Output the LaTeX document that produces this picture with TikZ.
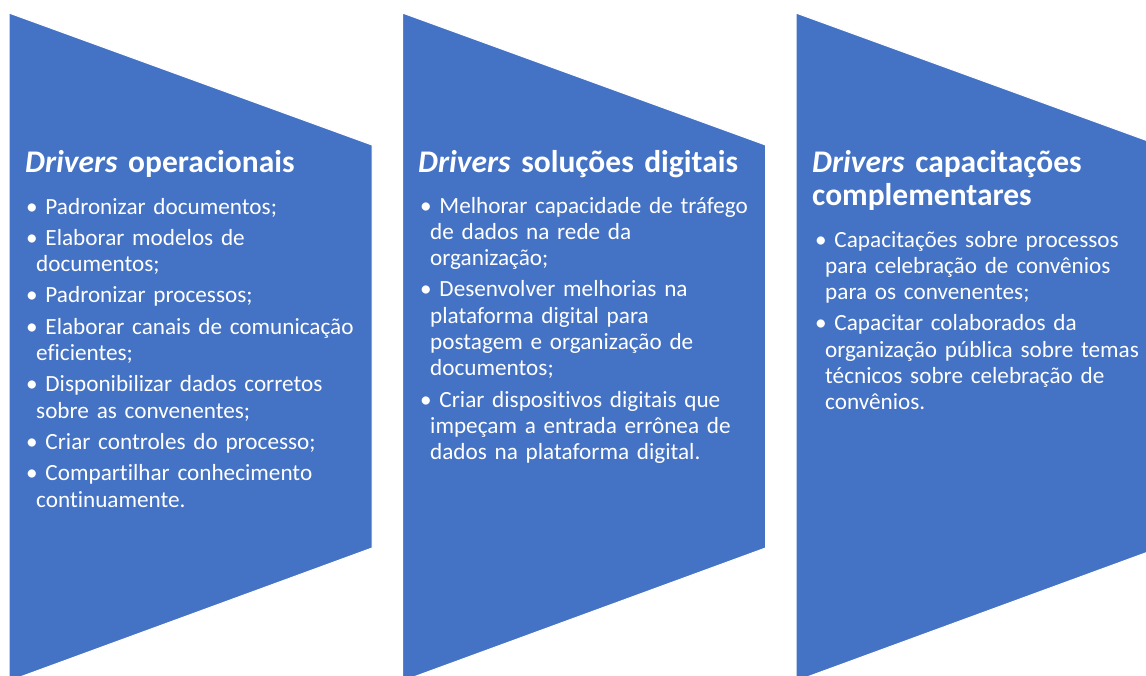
\documentclass[tikz,border=0pt]{standalone}
\usepackage{fontspec}
\setmainfont{Carlito}[Ligatures=NoCommon]
\usepackage{tikz}

\definecolor{drvblue}{HTML}{4472C4}
\newcommand{\drv}[1]{\hangindent=10pt\hangafter=1 •\ #1\par\vspace{5pt}}

\begin{document}
\begin{tikzpicture}[x=1pt,y=-1pt,
		panel/.style={fill=drvblue,draw=white,line width=1pt},
		drvtitle/.style={anchor=base west,inner sep=0pt,text width=345pt,align=left,text=white,font=\fontsize{31.5}{33}\selectfont\bfseries},
		drvlist/.style={anchor=base west,inner sep=0pt,text width=345pt,align=left,text=white,font=\fontsize{23.2}{26.3}\selectfont}]
		\useasboundingbox (0,0) rectangle (1146,675);
		\foreach \x in {9,402.5,796}
			\draw[panel] (\x,13)--(\x+363,145)--(\x+363,548)--(\x,681)--cycle;
		\node[drvtitle] (t1) at(25,172) {\textit{Drivers} operacionais};
		\node[drvtitle] (t2) at(418,172) {\textit{Drivers} soluções digitais};
		\node[drvtitle] (t3) at(812,172) {\textit{Drivers} capacitações\newline complementares};
		\node[drvlist] (l1) at(26,214) {\drv{Padronizar documentos;}
			\drv{Elaborar modelos de\newline documentos;}
			\drv{Padronizar processos;}
			\drv{Elaborar canais de comunicação\newline eficientes;}
			\drv{Disponibilizar dados corretos\newline sobre as convenentes;}
			\drv{Criar controles do processo;}
			\drv{Compartilhar conhecimento\newline continuamente.}};
		\node[drvlist] (l2) at(420,213) {\drv{Melhorar capacidade de tráfego\newline de dados na rede da\newline organização;}
			\drv{Desenvolver melhorias na\newline plataforma digital para\newline postagem e organização de\newline documentos;}
			\drv{Criar dispositivos digitais que\newline impeçam a entrada errônea de\newline dados na plataforma digital.}};
		\node[drvlist] (l3) at(815,247) {\drv{Capacitações sobre processos\newline para celebração de convênios\newline para os convenentes;}
			\drv{Capacitar colaborados da\newline organização pública sobre temas\newline técnicos sobre celebração de\newline convênios.}};
	\end{tikzpicture}
\end{document}
